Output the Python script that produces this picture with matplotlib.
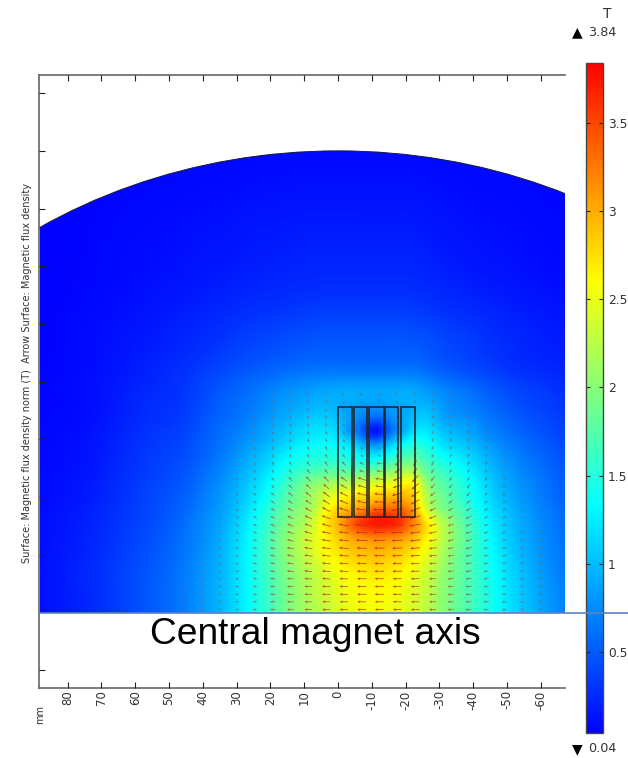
import numpy as np
import matplotlib
matplotlib.use("Agg")
import matplotlib.pyplot as plt
from matplotlib.cm import ScalarMappable
from matplotlib.colors import LinearSegmentedColormap, Normalize
from matplotlib.lines import Line2D
from matplotlib.patches import Circle, Rectangle
from matplotlib.tri import Triangulation, UniformTriRefiner

# flux density (T), rows go up from the magnet axis
x_nodes = [88, 70, 55, 45, 38, 32, 26, 20, 14, 8, 3, 0, -4, -8, -11, -14, -18, -22, -25, -30, -36, -42, -48, -56, -67]
y_nodes = [0, 8, 16, 22, 27, 31, 35, 39, 44, 50, 56, 60, 63, 66, 70, 75, 82, 92, 105, 125, 165]
field = [
    [.12, .28, .5, .68, .87, 1.07, 1.35, 1.62, 1.95, 2.15, 2.3, 2.38, 2.46, 2.5, 2.52, 2.5, 2.46, 2.38, 2.28, 2.05, 1.78, 1.55, 1.3, 1.0, .7],
    [.12, .28, .5, .68, .87, 1.07, 1.35, 1.65, 1.97, 2.22, 2.38, 2.46, 2.56, 2.6, 2.62, 2.6, 2.55, 2.44, 2.34, 2.08, 1.8, 1.55, 1.28, .98, .68],
    [.12, .28, .48, .66, .85, 1.06, 1.35, 1.68, 2.02, 2.28, 2.48, 2.58, 2.7, 2.75, 2.78, 2.75, 2.7, 2.56, 2.44, 2.15, 1.82, 1.53, 1.24, .94, .64],
    [.11, .26, .46, .64, .82, 1.05, 1.35, 1.7, 2.08, 2.38, 2.62, 2.74, 2.88, 2.94, 2.98, 2.96, 2.9, 2.76, 2.6, 2.25, 1.85, 1.5, 1.2, .9, .62],
    [.11, .25, .44, .62, .8, 1.02, 1.32, 1.68, 2.05, 2.38, 2.68, 2.86, 3.1, 3.25, 3.32, 3.3, 3.22, 3.0, 2.78, 2.33, 1.88, 1.48, 1.16, .87, .6],
    [.1, .24, .42, .6, .78, .98, 1.28, 1.62, 1.98, 2.3, 2.72, 2.95, 3.35, 3.62, 3.72, 3.72, 3.6, 3.2, 2.85, 2.3, 1.82, 1.42, 1.12, .85, .58],
    [.1, .23, .41, .57, .75, .94, 1.22, 1.55, 1.9, 2.18, 2.62, 2.85, 3.05, 3.25, 3.42, 3.45, 3.4, 3.1, 2.6, 2.05, 1.72, 1.35, 1.08, .82, .56],
    [.09, .21, .4, .54, .72, .9, 1.15, 1.45, 1.8, 2.1, 2.45, 2.6, 2.75, 2.85, 2.92, 3.0, 3.05, 2.85, 2.4, 1.92, 1.6, 1.28, 1.02, .78, .52],
    [.09, .2, .38, .5, .68, .85, 1.08, 1.35, 1.68, 1.98, 2.15, 2.22, 2.3, 2.42, 2.48, 2.55, 2.6, 2.65, 2.25, 1.8, 1.52, 1.22, .96, .74, .5],
    [.08, .18, .35, .46, .62, .78, .98, 1.2, 1.45, 1.6, 1.68, 1.68, 1.66, 1.68, 1.72, 1.82, 1.98, 2.05, 1.85, 1.58, 1.34, 1.1, .88, .68, .46],
    [.08, .17, .33, .42, .56, .7, .88, 1.05, 1.25, 1.38, 1.42, 1.38, 1.28, 1.1, 1.02, 1.15, 1.42, 1.6, 1.55, 1.3, 1.14, .96, .78, .6, .42],
    [.07, .16, .31, .4, .54, .66, .8, .95, 1.12, 1.25, 1.28, 1.2, .98, .62, .42, .66, 1.04, 1.32, 1.35, 1.15, 1.0, .85, .7, .55, .38],
    [.07, .15, .3, .38, .52, .63, .75, .9, 1.05, 1.18, 1.18, 1.08, .75, .38, .12, .38, .78, 1.12, 1.22, 1.05, .92, .78, .65, .5, .36],
    [.07, .14, .28, .36, .5, .6, .71, .85, .98, 1.1, 1.1, 1.02, .8, .52, .36, .52, .8, 1.02, 1.12, .95, .84, .72, .6, .47, .34],
    [.06, .13, .27, .34, .47, .57, .66, .78, .9, .98, 1.0, .94, .84, .76, .72, .76, .84, .94, 1.0, .86, .74, .64, .54, .42, .31],
    [.06, .13, .25, .32, .44, .54, .62, .72, .82, .88, .92, .92, .92, .9, .9, .9, .92, .92, .88, .78, .68, .58, .48, .38, .28],
    [.06, .12, .22, .3, .38, .45, .52, .58, .64, .68, .7, .7, .7, .7, .7, .7, .7, .7, .66, .58, .5, .43, .36, .29, .22],
    [.05, .11, .18, .24, .29, .34, .39, .43, .46, .49, .5, .5, .5, .5, .5, .5, .5, .49, .47, .42, .37, .32, .27, .22, .17],
    [.05, .09, .14, .18, .21, .24, .27, .29, .31, .33, .34, .34, .34, .34, .34, .34, .34, .33, .32, .29, .26, .23, .2, .17, .13],
    [.04, .07, .1, .12, .14, .15, .17, .18, .19, .2, .2, .2, .2, .2, .2, .2, .2, .2, .19, .17, .15, .13, .12, .1, .08],
    [.04, .04, .05, .05, .05, .05, .06, .06, .06, .06, .06, .06, .06, .06, .06, .06, .06, .06, .06, .06, .05, .05, .05, .05, .04],
]

# arrow directions in degrees off "pointing left" (up is positive)
arrow_x = [50.9, 45.6, 40.4, 35.1, 29.9, 24.6, 19.3, 14.1, 8.8, 3.5, -1.7, -7, -12.2, -17.5, -22.8, -28, -33.3, -38.6, -43.8, -49.1, -54.3, -59.6]
arrow_y = [1.0, 3.7, 6.3, 9.0, 11.7, 14.3, 17, 19.7, 22.3, 25, 27.7, 30.3, 33, 35.7, 38.3, 41, 43.7, 46.3, 49, 51.7, 54.3, 57, 59.7, 62.3, 65, 67.7, 70.3, 73, 75.7]
arrow_angle = [
    [1, 1, 1, 1, 1, 1, 0, 0, 0, 0, 0, 0, 0, 0, 0, 0, 0, 0, -1, -1, -1, -1],
    [3, 3, 3, 2, 2, 2, 1, 1, 1, 0, 0, 0, 0, 0, 0, -1, -1, -1, -2, -2, -2, -3],
    [5, 5, 5, 4, 4, 3, 3, 2, 2, 1, 1, 0, 0, 0, -1, -1, -2, -3, -3, -4, -4, -5],
    [8, 8, 7, 6, 6, 5, 4, 3, 3, 2, 1, 0, 0, -1, -2, -2, -3, -4, -5, -6, -6, -7],
    [11, 10, 10, 9, 8, 7, 6, 5, 4, 3, 2, 1, 0, -1, -2, -3, -4, -5, -6, -8, -9, -9],
    [14, 13, 12, 11, 10, 9, 8, 6, 5, 4, 3, 1, 0, -1, -2, -4, -5, -7, -8, -10, -11, -12],
    [17, 16, 15, 14, 13, 11, 10, 8, 6, 5, 3, 1, 0, -1, -3, -5, -7, -8, -10, -12, -13, -14],
    [20, 19, 18, 17, 15, 14, 12, 10, 8, 6, 4, 2, 0, -2, -4, -6, -8, -10, -12, -14, -16, -17],
    [23, 22, 21, 20, 18, 16, 14, 12, 10, 7, 5, 2, 0, -2, -5, -7, -10, -12, -14, -16, -18, -20],
    [26, 25, 24, 23, 21, 19, 17, 15, 12, 9, 6, 3, 0, -3, -6, -9, -12, -14, -17, -19, -21, -23],
    [30, 28, 27, 26, 24, 22, 20, 17, 15, 11, 7, 3, 0, -3, -8, -12, -15, -17, -20, -22, -24, -26],
    [33, 32, 31, 29, 27, 25, 23, 21, 18, 15, 9, 4, 0, -4, -10, -16, -19, -21, -23, -26, -28, -30],
    [37, 36, 34, 33, 31, 29, 27, 25, 23, 20, 12, 5, 1, -6, -15, -22, -24, -26, -28, -30, -32, -34],
    [41, 39, 38, 37, 35, 33, 31, 29, 28, 27, 18, 8, 2, -10, -22, -28, -30, -31, -33, -35, -37, -39],
    [45, 43, 42, 40, 39, 37, 36, 34, 33, 32, 23, 12, 4, -12, -28, -33, -35, -37, -38, -40, -42, -44],
    [49, 47, 46, 45, 43, 42, 41, 39, 38, 37, 27, 14, 5, -14, -34, -38, -41, -43, -45, -46, -48, -50],
    [53, 51, 50, 49, 48, 47, 46, 44, 42, 42, 30, 16, 7, -16, -40, -45, -48, -50, -52, -53, -55, -56],
    [57, 56, 55, 54, 53, 52, 51, 49, 47, 47, 34, 19, 7, -24, -47, -52, -55, -57, -58, -59, -61, -62],
    [61, 60, 59, 58, 58, 57, 56, 55, 52, 52, 40, 22, 6, -35, -54, -58, -62, -63, -64, -65, -66, -67],
    [65, 64, 64, 63, 63, 62, 61, 60, 58, 58, 47, 27, 5, -50, -60, -64, -66, -68, -69, -70, -71, -72],
    [69, 68, 68, 68, 67, 67, 66, 65, 64, 63, 55, 32, 8, -60, -66, -68, -70, -72, -73, -74, -75, -75],
    [72, 72, 72, 72, 71, 71, 71, 70, 69, 68, 62, 40, 20, -70, -72, -72, -74, -76, -76, -77, -78, -78],
    [75, 75, 75, 75, 75, 75, 75, 74, 74, 73, 68, 50, 90, -85, -78, -77, -78, -79, -80, -80, -81, -81],
    [78, 78, 78, 78, 78, 78, 78, 78, 78, 77, 73, 60, 140, -110, -85, -80, -82, -82, -83, -83, -84, -84],
    [81, 81, 81, 81, 81, 81, 81, 82, 82, 81, 78, 75, 165, -130, -90, -84, -85, -85, -86, -86, -86, -86],
    [84, 84, 84, 84, 84, 84, 85, 86, 86, 86, 85, 100, 175, -150, -100, -88, -88, -88, -88, -88, -89, -89],
    [86, 86, 86, 86, 87, 87, 88, 90, 90, 92, 100, 130, 178, -160, -115, -93, -91, -90, -90, -90, -90, -90],
    [88, 88, 88, 89, 89, 90, 92, 94, 97, 105, 125, 155, 180, -170, -135, -100, -95, -92, -92, -91, -91, -91],
    [90, 90, 91, 91, 92, 93, 96, 100, 108, 120, 145, 165, 180, -175, -150, -112, -100, -96, -94, -93, -92, -92],
]

magnet_left = [0, -4.8, -9.3, -14, -18.6]
magnet_right = [-4, -8.7, -13.5, -17.9, -22.7]
magnet_bottom = 33
magnet_top = 71.3
domain_radius = 160

x_ticks = [80, 70, 60, 50, 40, 30, 20, 10, 0, -10, -20, -30, -40, -50, -60]
y_ticks = [-20, 0, 20, 40, 60, 80, 100, 120, 140, 160, 180]
bar_ticks = [0.5, 1, 1.5, 2, 2.5, 3, 3.5]
bar_labels = ["0.5", "1", "1.5", "2", "2.5", "3", "3.5"]
b_min, b_max = 0.04, 3.84

W, H = 628, 758
fig = plt.figure(figsize=(W / 100, H / 100), dpi=100)
ax = fig.add_axes([39 / W, 1 - 687.5 / H, 526 / W, 612.5 / H])
ax.set_xlim(88.46, -67.16)
ax.set_ylim(-26, 186.3)

stops = [(0.04, (0, 0, 1)), (1.33, (0, 1, 1)), (1.96, (.5, 1, .5)), (2.6, (1, 1, 0)), (3.84, (1, 0, 0))]
cmap = LinearSegmentedColormap.from_list(
    "comsol", [((v - b_min) / (b_max - b_min), c) for v, c in stops], N=1024)
norm = Normalize(b_min, b_max)

# surface plot, cut to the circular domain
gx, gy = np.meshgrid(x_nodes, y_nodes)
field = np.array(field)
tri = Triangulation(gx.ravel(), gy.ravel())
fine_tri, fine_z = UniformTriRefiner(tri).refine_field(field.ravel(), subdiv=3)
levels = np.linspace(b_min, b_max, 500)
surf = ax.tricontourf(fine_tri, np.clip(fine_z, b_min, b_max - 0.001), levels=levels,
                      cmap=cmap, norm=norm, antialiased=False, zorder=1)
edge = Circle((0, 0), domain_radius, transform=ax.transData, fill=False,
              edgecolor="#1a1a40", linewidth=0.7, zorder=2)
ax.add_patch(edge)
surf.set_clip_path(edge)

# arrows, length and strength go with the nearest field reading
ax_grid, ay_grid = np.meshgrid(arrow_x, arrow_y)
ang = np.radians(np.array(arrow_angle, dtype=float))
ix = np.abs(ax_grid[..., None] - np.array(x_nodes)).argmin(axis=-1)
iy = np.abs(ay_grid[..., None] - np.array(y_nodes)).argmin(axis=-1)
mag = field[iy, ix]
show = mag > 0.45
heat = np.clip(mag[show] / 3.0, 0, 1)[:, None]
arrow_rgb = (1 - heat) * np.array([.45, .42, .42]) + heat * np.array([.8, .15, .12])
arrow_alpha = np.clip(0.3 + 0.22 * mag[show], 0.3, 0.9)[:, None]
ax.quiver(ax_grid[show], ay_grid[show], (-np.cos(ang) * mag)[show], (np.sin(ang) * mag)[show],
          angles="uv", units="dots", scale_units="dots", scale=0.28, width=0.8,
          headwidth=3.5, headlength=4, headaxislength=3.5, minlength=0, pivot="mid",
          color=np.hstack([arrow_rgb, arrow_alpha]), zorder=3)

for left, right in zip(magnet_left, magnet_right):
    ax.add_patch(Rectangle((left, magnet_bottom), right - left, magnet_top - magnet_bottom,
                           fill=False, edgecolor="#222222", linewidth=1.1, zorder=4))

for side in ["left", "top", "bottom"]:
    ax.spines[side].set_color("#666666")
    ax.spines[side].set_linewidth(1.2)
ax.spines["right"].set_visible(False)
ax.set_xticks(x_ticks)
ax.set_xticklabels([str(t) for t in x_ticks], rotation=90, fontsize=8.5, color="#333333")
ax.set_yticks(y_ticks)
ax.set_yticklabels([])
ax.tick_params(axis="x", direction="in", top=True, length=4, width=0.8, pad=2, color="#222222")
ax.tick_params(axis="y", direction="in", length=4, width=0.8, color="#222222")
ax.set_axisbelow(False)

fig.text(27 / W, 1 - 373 / H, "Surface: Magnetic flux density norm (T)  Arrow Surface: Magnetic flux density",
         rotation=90, ha="center", va="center", fontsize=7.07, color="#333333")
fig.text(40 / W, 1 - 715 / H, "mm", rotation=90, ha="center", va="center", fontsize=7, color="#333333")

# colour bar
cax = fig.add_axes([586 / W, 1 - 733 / H, 17 / W, 670 / H])
cb = fig.colorbar(ScalarMappable(norm=norm, cmap=cmap), cax=cax)
cb.set_ticks(bar_ticks)
cb.set_ticklabels(bar_labels)
cb.ax.tick_params(direction="in", length=3, width=0.8, left=True, right=True, pad=3.6,
                  labelsize=8.8, labelcolor="#333333", color="#222222")
cb.outline.set_edgecolor("#444444")
cb.outline.set_linewidth(1.0)

fig.text(607 / W, 1 - 14 / H, "T", ha="center", va="center", fontsize=10, color="#333333")
fig.text(577 / W, 1 - 32 / H, "▲", ha="center", va="center", fontsize=10, color="black")
fig.text(588 / W, 1 - 32 / H, "3.84", ha="left", va="center", fontsize=9.2, color="#333333")
fig.text(577 / W, 1 - 749 / H, "▼", ha="center", va="center", fontsize=10, color="black")
fig.text(588 / W, 1 - 749 / H, "0.04", ha="left", va="center", fontsize=9.2, color="#333333")

# magnet axis marker and its caption, added by hand on the original
fig.add_artist(Line2D([39 / W, 1], [1 - 612.5 / H] * 2, color="#5f7fc0", linewidth=1.2))
fig.text(315 / W, 1 - 634 / H, "Central magnet axis", ha="center", va="center",
         fontsize=26.7, family="Liberation Sans", color="black")

fig.savefig("out.png", dpi=100)
